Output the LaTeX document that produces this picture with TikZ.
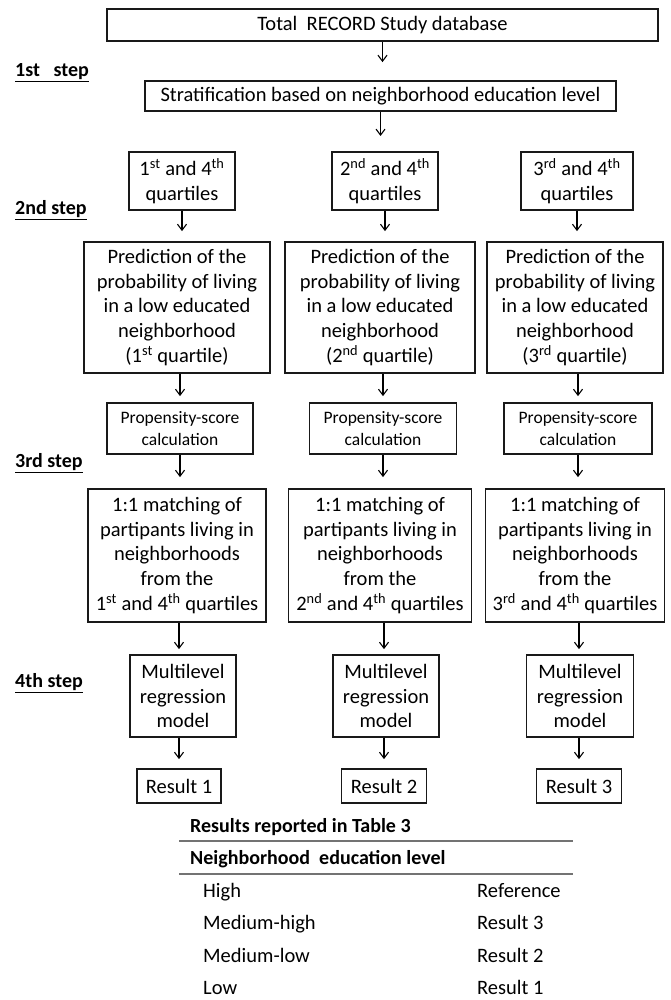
\documentclass[tikz,border=0pt]{standalone}
\usepackage{fontspec}
\setmainfont{Carlito}
\usetikzlibrary{shapes,arrows,arrows.meta}
\tikzstyle{block} = [rectangle, draw=black!90, line width=1.8pt, align=center,
    inner sep=0pt, font=\fontsize{20.5}{24.8}\selectfont]
\tikzstyle{smallblock} = [block, font=\fontsize{17.5}{22}\selectfont]
\tikzstyle{line} = [draw, line width=1.1pt, -{Straight Barb[length=6pt,width=9pt]}]
\tikzstyle{steplabel} = [anchor=west, inner sep=0pt, font=\fontsize{20}{24}\selectfont\bfseries]
\tikzstyle{cell} = [anchor=base west, inner sep=0pt, font=\fontsize{20.5}{24}\selectfont]
\tikzstyle{tablerule} = [draw, black!55, line width=1.3pt]

\begin{document}
\begin{tikzpicture}[x=1pt, y=-1pt]
    \useasboundingbox (0,0) rectangle (671,1000);
    % Place nodes
    \node [block, minimum width=551pt, minimum height=32pt] (total) at (382.5,25) {Total\ \ RECORD Study database};
    \node [block, minimum width=471pt, minimum height=30pt] (strat) at (380.5,96) {Stratification based on neighborhood education level};
    \coordinate (split) at (380.5,136);

    \node [block, minimum width=106pt, minimum height=58pt] (quart1) at (182,181) {1\textsuperscript{st} and 4\textsuperscript{th}\\quartiles};
    \node [block, minimum width=106pt, minimum height=58pt] (quart2) at (385,181) {2\textsuperscript{nd} and 4\textsuperscript{th}\\quartiles};
    \node [block, minimum width=112pt, minimum height=58pt] (quart3) at (577,181) {3\textsuperscript{rd} and 4\textsuperscript{th}\\quartiles};

    \node [block, minimum width=186pt, minimum height=131pt] (pred1) at (177,307.5) {Prediction of the\\probability of living\\in a low educated\\neighborhood\\(1\textsuperscript{st} quartile)};
    \node [block, minimum width=190pt, minimum height=131pt] (pred2) at (380,307.5) {Prediction of the\\probability of living\\in a low educated\\neighborhood\\(2\textsuperscript{nd} quartile)};
    \node [block, minimum width=176pt, minimum height=131pt] (pred3) at (575,307.5) {Prediction of the\\probability of living\\in a low educated\\neighborhood\\(3\textsuperscript{rd} quartile)};

    \node [smallblock, minimum width=146pt, minimum height=51pt] (score1) at (180,428.5) {Propensity-score\\calculation};
    \node [smallblock, minimum width=147pt, minimum height=51pt] (score2) at (383,428.5) {Propensity-score\\calculation};
    \node [smallblock, minimum width=148pt, minimum height=51pt] (score3) at (578,428.5) {Propensity-score\\calculation};

    \node [block, minimum width=178pt, minimum height=133pt] (match1) at (177,555.5) {1:1 matching of\\partipants living in\\neighborhoods\\from the\\1\textsuperscript{st} and 4\textsuperscript{th} quartiles};
    \node [block, minimum width=183pt, minimum height=133pt] (match2) at (380,555.5) {1:1 matching of\\partipants living in\\neighborhoods\\from the\\2\textsuperscript{nd} and 4\textsuperscript{th} quartiles};
    \node [block, minimum width=179pt, minimum height=133pt] (match3) at (575,555.5) {1:1 matching of\\partipants living in\\neighborhoods\\from the\\3\textsuperscript{rd} and 4\textsuperscript{th} quartiles};

    \node [block, minimum width=106pt, minimum height=82pt] (model1) at (183,696) {Multilevel\\regression\\model};
    \node [block, minimum width=106pt, minimum height=82pt] (model2) at (386,696) {Multilevel\\regression\\model};
    \node [block, minimum width=107pt, minimum height=82pt] (model3) at (580,696) {Multilevel\\regression\\model};

    \node [block, minimum width=84pt, minimum height=34pt] (result1) at (179,786) {Result 1};
    \node [block, minimum width=85pt, minimum height=34pt] (result2) at (384,786) {Result 2};
    \node [block, minimum width=85pt, minimum height=34pt] (result3) at (579,786) {Result 3};

    % Step labels
    \node [steplabel] (step1) at (15,73) {\underline{1st\ \ \ step}};
    \node [steplabel] (step2) at (15,210) {\underline{2nd step}};
    \node [steplabel] (step3) at (15,463) {\underline{3rd step}};
    \node [steplabel] (step4) at (15,683) {\underline{4th step}};

    % Table of results
    \node [cell, font=\fontsize{20}{24}\selectfont\bfseries] (tabtitle) at (190,832) {Results reported in Table 3};
    \node [cell, font=\fontsize{20}{24}\selectfont\bfseries] (tabhead) at (190,864) {Neighborhood\ \ education level};
    \coordinate (ruleAl) at (179,841);
    \coordinate (ruleAr) at (573,841);
    \coordinate (ruleBl) at (179,874);
    \coordinate (ruleBr) at (573,874);
    \node [cell] (lvl1) at (203,897) {High};
    \node [cell] (lvl2) at (203,929) {Medium-high};
    \node [cell] (lvl3) at (203,962) {Medium-low};
    \node [cell] (lvl4) at (203,994) {Low};
    \node [cell] (res1) at (477,897) {Reference};
    \node [cell] (res2) at (477,929) {Result 3};
    \node [cell] (res3) at (477,962) {Result 2};
    \node [cell] (res4) at (477,994) {Result 1};
    \path [tablerule] (ruleAl) -- (ruleAr);
    \path [tablerule] (ruleBl) -- (ruleBr);

    % Draw edges
    \path [line, shorten >=18pt] (total.south) -- (total.south |- strat.north);
    \path [line] (strat.south -| split) -- (split);
    \path [line, shorten >=10pt] (quart1.south) -- (quart1.south |- pred1.north);
    \path [line, shorten >=10pt] (quart2.south) -- (quart2.south |- pred2.north);
    \path [line, shorten >=10pt] (quart3.south) -- (quart3.south |- pred3.north);
    \path [line, shorten >=6pt] (pred1.south -| score1) -- (score1.north);
    \path [line, shorten >=6pt] (pred2.south -| score2) -- (score2.north);
    \path [line, shorten >=6pt] (pred3.south -| score3) -- (score3.north);
    \path [line, shorten >=11pt] (score1.south) -- (score1.south |- match1.north);
    \path [line, shorten >=11pt] (score2.south) -- (score2.south |- match2.north);
    \path [line, shorten >=11pt] (score3.south) -- (score3.south |- match3.north);
    \path [line, shorten >=5pt] (match1.south -| result1) -- (model1.north -| result1);
    \path [line, shorten >=5pt] (match2.south -| result2) -- (model2.north -| result2);
    \path [line, shorten >=5pt] (match3.south -| result3) -- (model3.north -| result3);
    \path [line, shorten >=9pt] (model1.south -| result1) -- (result1.north);
    \path [line, shorten >=9pt] (model2.south -| result2) -- (result2.north);
    \path [line, shorten >=9pt] (model3.south -| result3) -- (result3.north);
\end{tikzpicture}
\end{document}
